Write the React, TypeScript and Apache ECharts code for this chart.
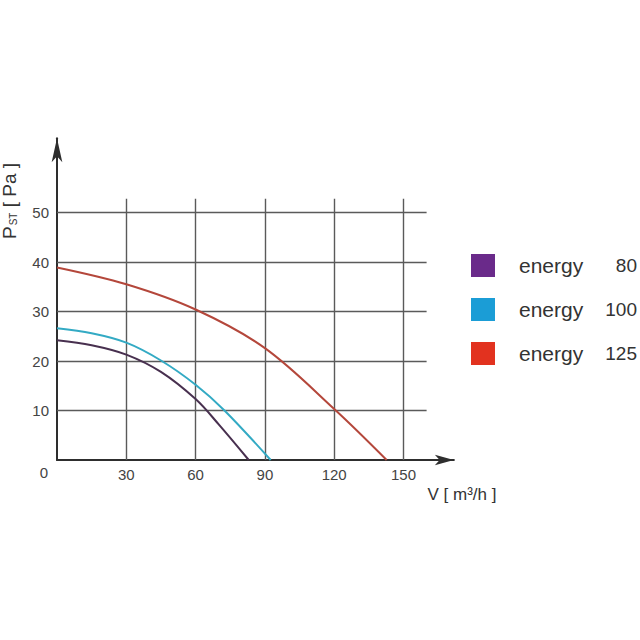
import React, { useEffect, useRef } from "react";
import * as echarts from "echarts";

// ---- data ----
const seriesNames = ["energy 80", "energy 100", "energy 125"];
const xTicks = [30, 60, 90, 120, 150];
const yTicks = [10, 20, 30, 40, 50];

const energy80: [number, number][] = [
  [0, 24.2], [15, 23.2], [30, 21.3], [45, 17.8], [60, 12.3], [70, 7.2], [83, 0],
];
const energy100: [number, number][] = [
  [0, 26.6], [15, 25.6], [30, 23.7], [45, 20.1], [60, 15.2], [72.5, 10], [92.5, 0],
];
const energy125: [number, number][] = [
  [0, 38.9], [30, 35.5], [60, 30.4], [90, 22.6], [120, 10.3], [142.7, 0],
];

const lineColors = ["#48304f", "#33aac4", "#b4473b"];
const legendColors = ["#6a2a8a", "#1b9dd6", "#e2321f"];

// ---- layout ----
const PX_X = 2.31;
const PX_Y = 4.95;
const X0 = 57;
const Y0 = 460;
const XMAX = 171.8;
const YMAX = 65;
const GRID_XMAX = 160;
const GRID_YMAX = 52.8;
const FONT = "'Liberation Sans', Arial, sans-serif";

export default function App() {
  const ref = useRef<HTMLDivElement>(null);
  useEffect(() => {
    if (!ref.current) return;
    const chart = echarts.init(ref.current, null, { renderer: "svg" });

    const gridLines: any[] = [];
    yTicks.forEach((v) =>
      gridLines.push([{ coord: [0, v] }, { coord: [GRID_XMAX, v] }])
    );
    xTicks.forEach((v) =>
      gridLines.push([{ coord: [v, 0] }, { coord: [v, GRID_YMAX] }])
    );

    const datas = [energy80, energy100, energy125];

    chart.setOption({
      animation: false,
      backgroundColor: "#ffffff",
      grid: {
        left: X0,
        top: Y0 - YMAX * PX_Y,
        width: XMAX * PX_X,
        height: YMAX * PX_Y,
        containLabel: false,
      },
      xAxis: {
        type: "value",
        min: 0,
        max: XMAX,
        interval: 30,
        splitLine: { show: false },
        axisTick: { show: false },
        axisLine: {
          show: true,
          symbol: ["none", "arrow"],
          symbolSize: [8, 19],
          lineStyle: { color: "#2e2e2e", width: 2 },
        },
        axisLabel: {
          showMinLabel: false,
          showMaxLabel: false,
          formatter: (v: number) => (xTicks.indexOf(v) >= 0 ? String(v) : ""),
          color: "#444",
          fontSize: 15,
          fontFamily: FONT,
          margin: 7,
        },
      },
      yAxis: {
        type: "value",
        min: 0,
        max: YMAX,
        interval: 10,
        splitLine: { show: false },
        axisTick: { show: false },
        axisLine: {
          show: true,
          symbol: ["none", "arrow"],
          symbolSize: [8, 24],
          lineStyle: { color: "#2e2e2e", width: 2 },
        },
        axisLabel: {
          showMinLabel: false,
          showMaxLabel: false,
          formatter: (v: number) => (yTicks.indexOf(v) >= 0 ? String(v) : ""),
          color: "#444",
          fontSize: 15,
          fontFamily: FONT,
          margin: 8,
        },
      },
      legend: {
        show: true,
        orient: "vertical",
        left: 471,
        top: 254,
        padding: 0,
        itemWidth: 24,
        itemHeight: 23,
        itemGap: 21,
        icon: "rect",
        selectedMode: false,
        data: seriesNames.map((n, i) => ({
          name: n,
          itemStyle: { color: legendColors[i], borderWidth: 0 },
        })),
        formatter: (name: string) => {
          const parts = name.split(" ");
          return `{n|${parts[0]}}{v|${parts[1]}}`;
        },
        textStyle: {
          rich: {
            n: {
              fontSize: 21,
              fontFamily: FONT,
              color: "#333",
              width: 86,
              padding: [0, 0, 0, 19],
            },
            v: {
              fontSize: 19,
              fontFamily: FONT,
              color: "#333",
              width: 32,
              align: "right",
            },
          },
        },
      },
      series: [
        {
          type: "line",
          name: "grid",
          data: [],
          z: 1,
          silent: true,
          markLine: {
            silent: true,
            symbol: "none",
            z: 1,
            label: { show: false },
            lineStyle: { color: "#5a5a5a", width: 1.4, type: "solid" },
            data: gridLines,
          },
        },
        ...datas.map((d, i) => ({
          type: "line",
          name: seriesNames[i],
          data: d,
          smooth: 0.35,
          showSymbol: false,
          z: 5,
          lineStyle: { color: lineColors[i], width: 2 },
          itemStyle: { color: lineColors[i] },
        })),
      ],
      graphic: [
        {
          type: "text",
          x: 44,
          y: 472,
          style: {
            text: "0",
            fontSize: 15,
            fontFamily: FONT,
            fill: "#444",
            align: "center",
            verticalAlign: "middle",
          },
        },
        {
          type: "text",
          x: 462,
          y: 494,
          style: {
            text: "V [ m³/h ]",
            fontSize: 17,
            fontFamily: FONT,
            fill: "#333",
            align: "center",
            verticalAlign: "middle",
          },
        },
        {
          type: "text",
          x: 9,
          y: 201,
          rotation: Math.PI / 2,
          style: {
            text: "{p|P}{s|ST}{t| [ Pa ]}",
            align: "center",
            verticalAlign: "middle",
            rich: {
              p: { fontSize: 19, fontFamily: FONT, fill: "#333", color: "#333" },
              s: {
                fontSize: 10,
                fontFamily: FONT,
                fill: "#333",
                color: "#333",
                verticalAlign: "bottom",
                padding: [9, 0, 0, 1],
              },
              t: { fontSize: 19, fontFamily: FONT, fill: "#333", color: "#333" },
            },
          },
        },
      ],
    });
    return () => chart.dispose();
  }, []);
  return (
    <div
      ref={ref}
      style={{ position: "fixed", left: 0, top: 0, width: 640, height: 640 }}
    />
  );
}
